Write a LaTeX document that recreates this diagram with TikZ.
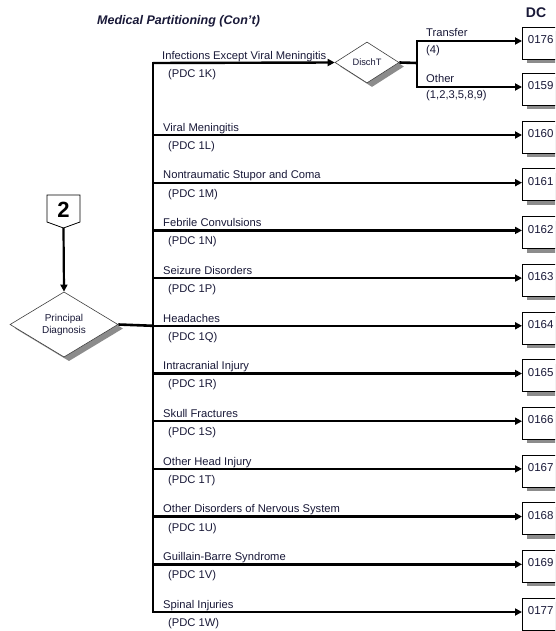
\documentclass[tikz,border=0pt]{standalone}
\usepackage{fontspec}
\setmainfont{Liberation Sans}
\usetikzlibrary{arrows.meta,shapes.geometric,shadows}
\definecolor{txt}{rgb}{0.1,0.1,0.22}
\begin{document}
\begin{tikzpicture}[x=1pt,y=-1pt,
  conn/.style={line width=2.4pt,-{Triangle[length=7pt,width=7pt]}},
  trunk/.style={line width=2.6pt,line cap=rect},
  lab/.style={font=\fontsize{11.2}{13}\selectfont,text=txt,inner sep=0,anchor=base west},
  pdc/.style={font=\fontsize{11.2}{13}\selectfont,text=txt,inner sep=0,anchor=west},
  shad/.style={drop shadow={shadow xshift=5pt,shadow yshift=-4pt,fill=black!45,opacity=1}},
  dcbox/.style={draw,line width=0.8pt,fill=white,shad,text width=34pt,align=left,
    inner xsep=5.5pt,inner ysep=0pt,text height=16.5pt,text depth=15.5pt,anchor=mid west,
    text=txt,font=\fontsize{11.5}{13}\selectfont},
  decis/.style={diamond,draw=black!75,line width=0.6pt,fill=white,shad,inner sep=0pt,align=center,text=txt}
]
\clip (0,0) rectangle (555,631);
\fill[white] (0,0) rectangle (555,631);

% title
\node[anchor=west,inner sep=0,text=txt,font=\fontsize{12.5}{15}\selectfont\bfseries\itshape] (title) at (97,21) {Medical Partitioning (Con{\char"0027}t)};
\node[inner sep=0,text=txt,font=\fontsize{14}{16}\selectfont\bfseries] (dc) at (536,13) {DC};

% off-page connector 2
\draw[line width=0.8pt,fill=white] (47,195) -- (80,195) -- (80,222) -- (63.5,228) -- (47,222) -- cycle;
\node[inner sep=0,font=\fontsize{22}{24}\selectfont\bfseries] (n2) at (63.5,209.5) {2};
\coordinate (n2tip) at (63.5,228);

% principal diagnosis
\node[decis,minimum width=108pt,minimum height=52pt,font=\fontsize{10}{12}\selectfont] (PD) at (64,324.5) {Principal\\Diagnosis};
\draw[line width=2.2pt,-{Triangle[length=7pt,width=7pt]}] (n2tip) -- (PD.north);

% trunk
\coordinate (s0) at (153,63);
\foreach \code/\lab/\pdcc [count=\i from 0] in {
  0160/{Viral Meningitis}/1L,
  0161/{Nontraumatic Stupor and Coma}/1M,
  0162/{Febrile Convulsions}/1N,
  0163/{Seizure Disorders}/1P,
  0164/{Headaches}/1Q,
  0165/{Intracranial Injury}/1R,
  0166/{Skull Fractures}/1S,
  0167/{Other Head Injury}/1T,
  0168/{Other Disorders of Nervous System}/1U,
  0169/{Guillain-Barre Syndrome}/1V,
  0177/{Spinal Injuries}/1W}{
  \pgfmathsetmacro{\yy}{135+47.7*\i}
  \coordinate (s\code) at (153,\yy);
  \node[dcbox] (b\code) at (522,\yy) {\code};
  \node[lab] (l\code) at (163,\yy-3.8) {\lab};
  \node[pdc] (p\code) at (168,\yy+11.5) {(PDC \pdcc)};
  \draw[conn] (s\code) -- (b\code.mid west);
}
\draw[trunk] (s0) -- (s0177);
\draw[line width=2.6pt] (PD.east) -- (s0164);

% first row with DischT
\node[decis,minimum width=64pt,minimum height=41pt,font=\fontsize{9.3}{11}\selectfont] (DT) at (367,62.5) {DischT};
\node[lab] (l1k) at (162,59.2) {Infections Except Viral Meningitis};
\node[pdc] (p1k) at (168,75) {(PDC 1K)};
\draw[conn] (s0) -- (DT.west);
\coordinate (dj) at (417,63);
\coordinate (dt) at (417,41);
\coordinate (do) at (417,87);
\draw[line width=2.6pt] (DT.east) -- (dj);
\draw[trunk] (dt) -- (do);
\node[dcbox] (b0176) at (522,41) {0176};
\node[dcbox] (b0159) at (522,87) {0159};
\draw[conn] (dt) -- (b0176.mid west);
\draw[conn] (do) -- (b0159.mid west);
\node[lab] (ltr) at (426,37) {Transfer};
\node[pdc] (ptr) at (426,51) {(4)};
\node[lab] (lot) at (426,82.5) {Other};
\node[pdc] (pot) at (426,95.3) {(1,2,3,5,8,9)};
\end{tikzpicture}
\end{document}
